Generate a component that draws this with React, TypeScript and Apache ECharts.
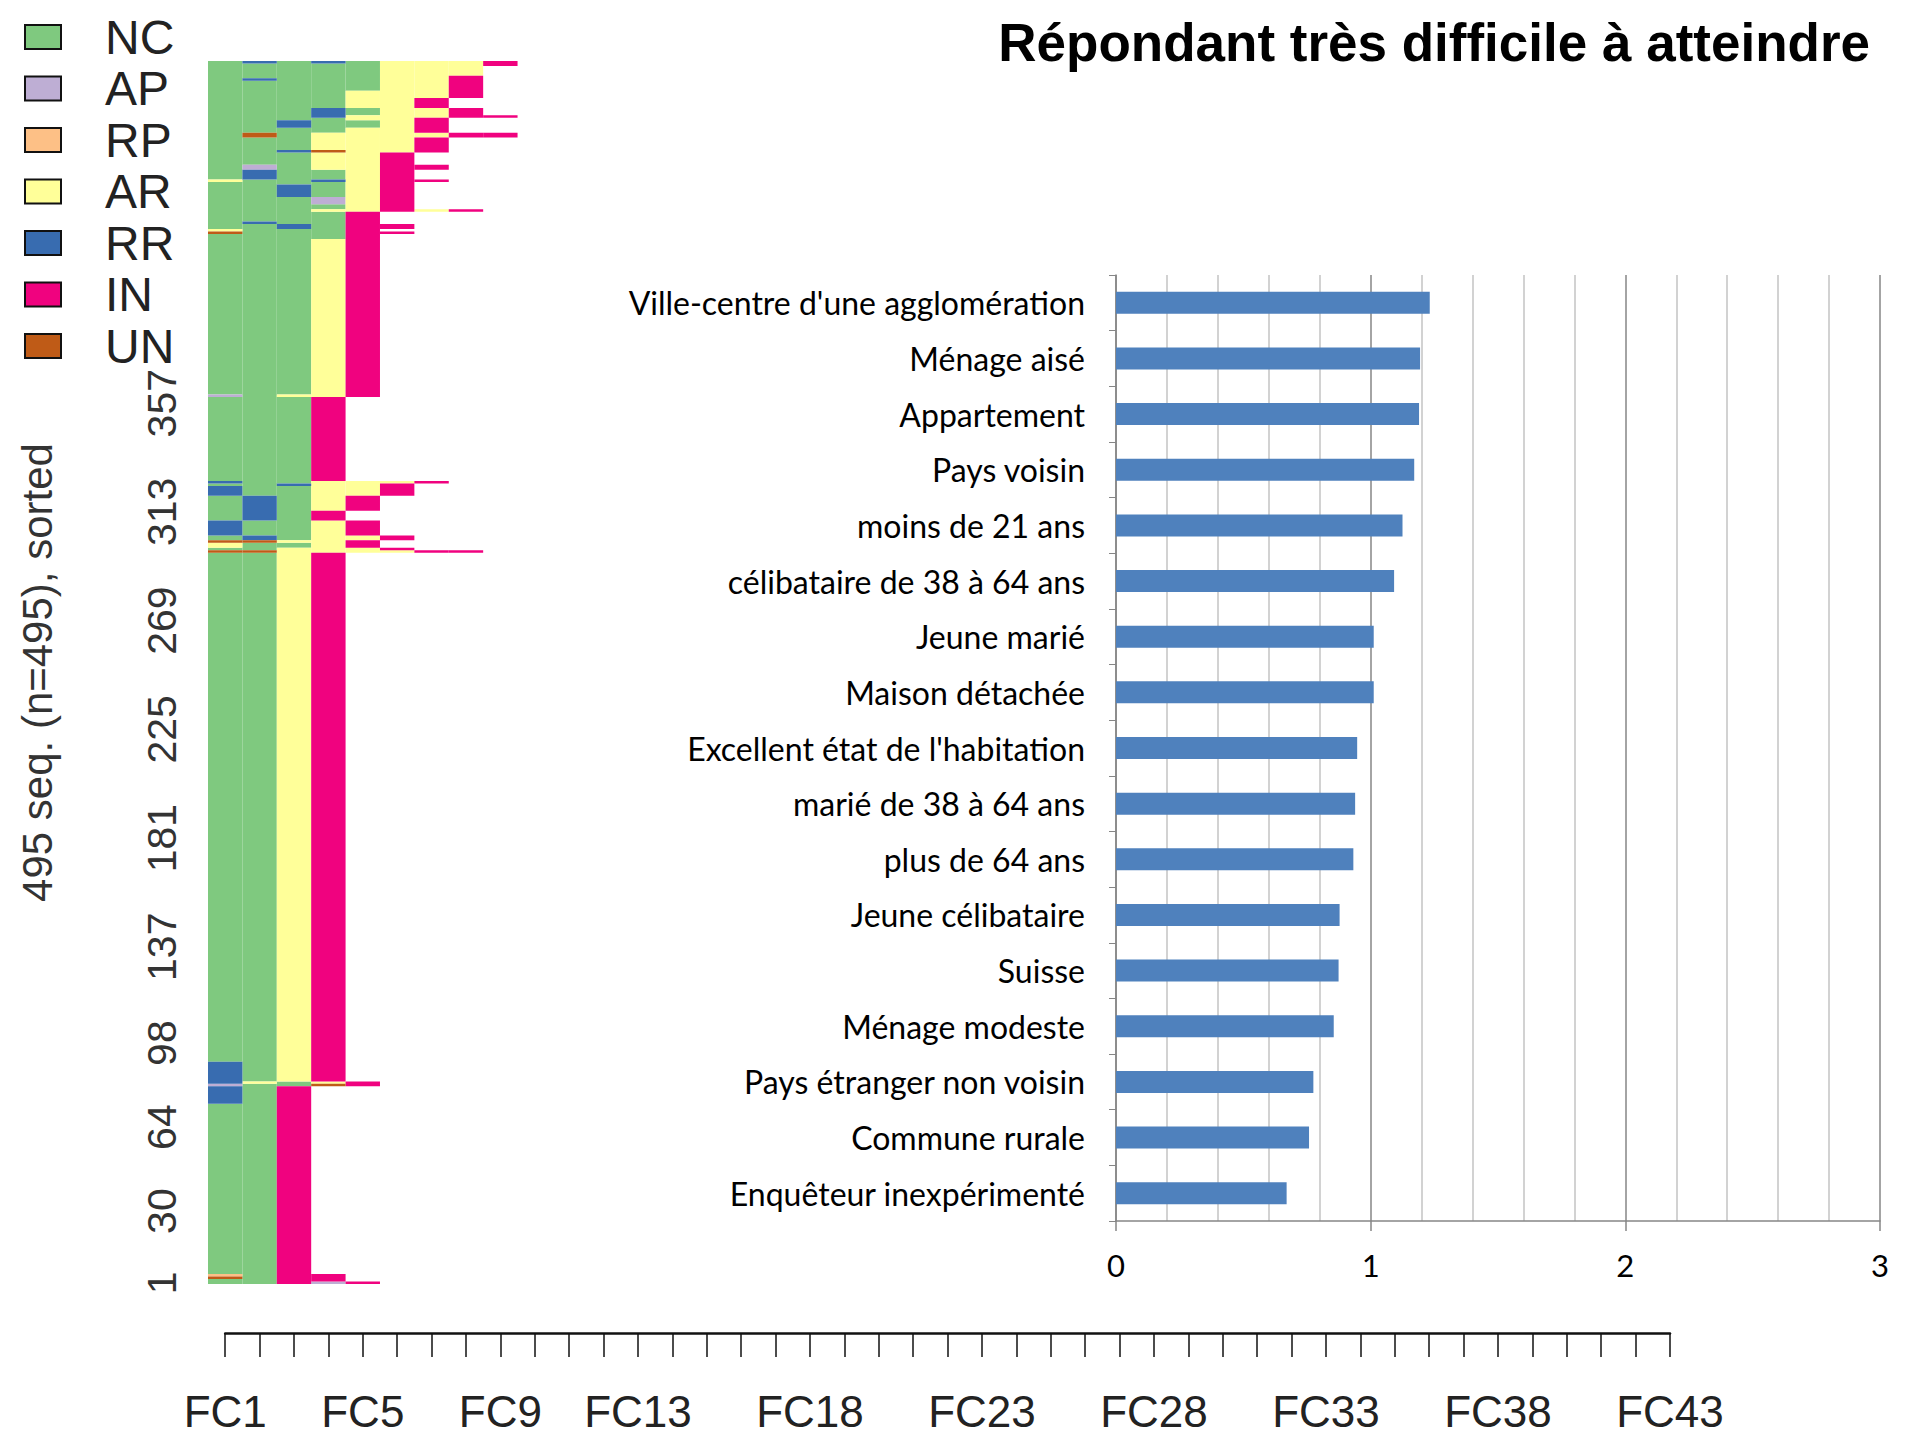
import React, { useEffect, useRef } from "react";
import * as echarts from "echarts";

// ---------- sequence index plot ----------
const STATES = ["NC", "AP", "RP", "AR", "RR", "IN", "UN"];
const STATE_COLORS = ["#7fc97f", "#beaed4", "#fdc086", "#ffff99", "#386cb0", "#f0027f", "#bf5b17"];

const POSITIONS = [
  "FC1", "FC2", "FC3", "FC4", "FC5", "FC6", "FC7", "FC8", "FC9", "FC10", "FC11",
  "FC12", "FC13", "FC14", "FC15", "FC16", "FC17", "FC18", "FC19", "FC20", "FC21",
  "FC22", "FC23", "FC24", "FC25", "FC26", "FC27", "FC28", "FC29", "FC30", "FC31",
  "FC32", "FC33", "FC34", "FC35", "FC36", "FC37", "FC38", "FC39", "FC40", "FC41",
  "FC42", "FC43",
];
const POSITION_LABELS = ["FC1", "FC5", "FC9", "FC13", "FC18", "FC23", "FC28", "FC33", "FC38", "FC43"];
const SEQ_TICKS = [1, 30, 64, 98, 137, 181, 225, 269, 313, 357];
const SEQ_TOTAL = 495;

// groups of identical sequences, listed from sequence 1 (bottom) upwards
const groupCounts = [
  1, 1, 1, 1, 69, 7, 1, 1, 8, 206,
  1, 1, 2, 1, 2, 6, 4, 6, 4, 1, 1,
  34, 1, 63,
  2, 1, 1, 2, 1, 4, 1, 2, 3, 5, 1, 1, 4, 2, 5, 1, 5, 2, 2, 3, 1, 1, 3, 4, 3, 4, 1, 1, 4, 1, 1,
];
const groupSequences = [
  "NC NC IN AP IN",
  "NC NC IN IN",
  "UN NC IN IN",
  "RP NC IN IN",
  "NC NC IN",
  "RR NC IN",
  "AP NC NC UN IN",
  "RR AR NC AR IN",
  "RR NC AR IN",
  "NC NC AR IN",
  "UN UN AR AR AR AR IN IN",
  "NC NC AR AR AR IN",
  "AR NC NC AR IN",
  "UN UN AR AR IN",
  "NC RR NC AR AR IN",
  "RR NC NC AR IN",
  "NC RR NC IN",
  "NC RR NC AR IN",
  "RR NC NC AR AR IN",
  "NC NC RR AR AR IN",
  "RR NC NC AR AR AR IN",
  "NC NC NC IN",
  "AP NC AR AR IN",
  "NC NC NC AR IN",
  "NC NC NC NC IN",
  "UN NC NC NC IN IN",
  "AR NC NC NC IN",
  "NC NC RR NC IN IN",
  "NC RR NC NC IN",
  "NC NC NC NC IN",
  "NC NC NC AR AR IN AR IN",
  "NC NC NC NC AR IN",
  "NC NC NC AP AR IN",
  "NC NC RR NC AR IN",
  "NC NC NC NC AR IN",
  "AR NC NC RR AR IN IN",
  "NC RR NC NC AR IN",
  "NC AP NC AR AR IN IN",
  "NC NC NC AR AR IN",
  "NC NC RR UN AR AR IN",
  "NC NC NC AR AR AR IN",
  "NC UN NC AR AR AR AR IN IN",
  "NC NC NC NC AR AR IN",
  "NC NC RR NC NC AR IN",
  "NC NC NC NC AR AR IN",
  "NC NC NC RR AR AR AR IN IN",
  "NC NC NC RR NC AR AR IN",
  "NC NC NC NC AR AR IN",
  "NC NC NC NC AR AR AR IN",
  "NC NC NC NC NC AR AR IN",
  "NC RR NC NC NC AR AR IN",
  "NC NC NC NC NC AR AR IN",
  "NC NC NC NC NC AR AR AR",
  "NC NC NC NC NC AR AR AR IN",
  "NC RR NC RR NC AR AR AR IN",
];

// ---------- bar chart ----------
const TITLE = "Répondant très difficile à atteindre";
const BAR_CATEGORIES = [
  "Ville-centre d'une agglomération",
  "Ménage aisé",
  "Appartement",
  "Pays voisin",
  "moins de 21 ans",
  "célibataire de 38 à 64 ans",
  "Jeune marié",
  "Maison détachée",
  "Excellent état de l'habitation",
  "marié de 38 à 64 ans",
  "plus de 64 ans",
  "Jeune célibataire",
  "Suisse",
  "Ménage modeste",
  "Pays étranger non voisin",
  "Commune rurale",
  "Enquêteur inexpérimenté",
];
const BAR_VALUES = [
  1.232, 1.194, 1.19, 1.171, 1.125, 1.092, 1.012, 1.012, 0.947,
  0.939, 0.932, 0.878, 0.874, 0.855, 0.775, 0.758, 0.67,
];
const BAR_TICKS = [0, 1, 2, 3];

const ARIAL = "'Liberation Sans', Arial, sans-serif";
const CALIBRI = "Lato, 'Open Sans', sans-serif";

function buildRuns() {
  const seqs: string[][] = [];
  groupCounts.forEach((n, g) => {
    const st = groupSequences[g].split(" ");
    for (let k = 0; k < n; k++) seqs.push(st);
  });
  const runs: number[][][] = STATES.map(() => []);
  for (let c = 0; c < POSITIONS.length; c++) {
    let s = 0;
    while (s < seqs.length) {
      const st = seqs[s][c];
      let e = s;
      while (e + 1 < seqs.length && seqs[e + 1][c] === st) e++;
      if (st) runs[STATES.indexOf(st)].push([c, s, e]);
      s = e + 1;
    }
  }
  return runs;
}

export default function App() {
  const ref = useRef<HTMLDivElement>(null);

  useEffect(() => {
    if (!ref.current) return;
    const chart = echarts.init(ref.current, undefined, { renderer: "svg" });
    const runs = buildRuns();
    const seqIds = Array.from({ length: SEQ_TOTAL }, (_, i) => String(i + 1));

    const stateSeries = STATES.map((name, k) => ({
      type: "custom",
      name,
      xAxisIndex: 0,
      yAxisIndex: 0,
      itemStyle: { color: STATE_COLORS[k] },
      encode: { x: 0, y: 1 },
      data: runs[k],
      renderItem: (_params: any, api: any) => {
        const c = api.value(0);
        const s0 = api.value(1);
        const s1 = api.value(2);
        const a = api.coord([c, s0]);
        const b = api.coord([c, s1]);
        const o = api.coord([0, 0]);
        const dx = api.coord([1, 1]);
        const w = Math.abs(dx[0] - o[0]);
        const h = Math.abs(o[1] - dx[1]);
        return {
          type: "rect",
          shape: { x: a[0] - w / 2, y: b[1] - h / 2, width: w, height: a[1] - b[1] + h },
          style: { fill: STATE_COLORS[k] },
        };
      },
    }));

    const option: any = {
      animation: false,
      backgroundColor: "#ffffff",
      title: {
        text: TITLE,
        right: 42,
        top: 11,
        textStyle: { fontFamily: ARIAL, fontSize: 53, fontWeight: "bold", color: "#000" },
      },
      legend: {
        orient: "vertical",
        left: 24,
        top: 13,
        padding: 0,
        itemWidth: 36,
        itemHeight: 24,
        itemGap: 3.5,
        icon: "rect",
        data: STATES,
        itemStyle: { borderColor: "#111", borderWidth: 2 },
        textStyle: {
          fontFamily: ARIAL,
          fontSize: 48,
          color: "#222",
          padding: [0, 0, 0, 39],
        },
        selectedMode: false,
      },
      grid: [
        { left: 208, top: 61, width: 1479, height: 1223 },
        { left: 225.2, top: 1300, width: 1444.8, height: 33 },
        { left: 1116, top: 275, width: 764, height: 946 },
      ],
      xAxis: [
        { gridIndex: 0, type: "category", data: POSITIONS, show: false },
        {
          gridIndex: 1,
          type: "category",
          data: POSITIONS,
          boundaryGap: false,
          axisLine: { lineStyle: { color: "#111", width: 2.5 } },
          axisTick: { interval: 0, length: 24, lineStyle: { color: "#111", width: 1.5 } },
          axisLabel: {
            interval: (_i: number, v: string) => POSITION_LABELS.includes(v),
            margin: 56,
            fontFamily: ARIAL,
            fontSize: 44,
            color: "#222",
          },
          splitLine: { show: false },
        },
        {
          gridIndex: 2,
          type: "value",
          min: BAR_TICKS[0],
          max: BAR_TICKS[BAR_TICKS.length - 1],
          interval: 1,
          axisLine: { show: true, lineStyle: { color: "#868686", width: 1.5 } },
          axisTick: { show: true, length: 10, lineStyle: { color: "#868686", width: 1.5 } },
          axisLabel: { fontFamily: CALIBRI, fontSize: 31, color: "#000", margin: 28 },
          splitLine: { show: true, lineStyle: { color: "#868686", width: 1.5 } },
          minorTick: { show: false, splitNumber: 5 },
          minorSplitLine: { show: true, lineStyle: { color: "#c3c3c3", width: 1.5 } },
        },
      ],
      yAxis: [
        {
          gridIndex: 0,
          type: "category",
          data: seqIds,
          axisLine: { show: false },
          axisTick: { show: false },
          splitLine: { show: false },
          axisLabel: {
            interval: (i: number) => SEQ_TICKS.includes(i + 1),
            rotate: 90,
            margin: 26,
            fontFamily: ARIAL,
            fontSize: 41,
            color: "#333",
          },
          name: "495 seq. (n=495), sorted",
          nameLocation: "middle",
          nameGap: 150,
          nameTextStyle: { fontFamily: ARIAL, fontSize: 42, color: "#333" },
        },
        { gridIndex: 1, type: "value", show: false },
        {
          gridIndex: 2,
          type: "category",
          data: BAR_CATEGORIES,
          inverse: true,
          axisLine: { show: true, lineStyle: { color: "#868686", width: 1.5 } },
          axisTick: { show: true, length: 7, lineStyle: { color: "#868686" } },
          axisLabel: { fontFamily: CALIBRI, fontSize: 32, color: "#000", margin: 31 },
          splitLine: { show: false },
        },
      ],
      series: [
        ...stateSeries,
        {
          type: "bar",
          name: "score",
          xAxisIndex: 2,
          yAxisIndex: 2,
          data: BAR_VALUES,
          barWidth: 22,
          itemStyle: { color: "#4f81bd" },
        },
      ],
    };
    chart.setOption(option);
    return () => chart.dispose();
  }, []);

  return (
    <div
      ref={ref}
      style={{ position: "absolute", left: 0, top: 0, width: 1917, height: 1440, background: "#fff" }}
    />
  );
}
